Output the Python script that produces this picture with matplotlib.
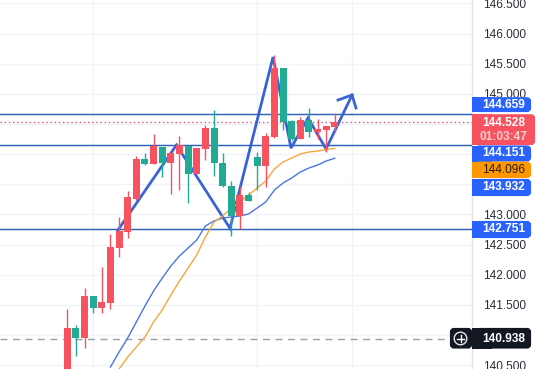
import numpy as np
import matplotlib
matplotlib.use("Agg")
import matplotlib.pyplot as plt
from matplotlib.patches import FancyBboxPatch, Rectangle, Circle

plt.rcParams['font.family'] = ['Liberation Sans', 'DejaVu Sans']

# ---- data -------------------------------------------------------------
opens = [140.337, 141.116, 140.950, 141.647, 141.448, 141.531, 142.443, 142.708, 143.255, 143.919, 143.836,
         144.118, 143.852, 144.002, 144.134, 143.670, 144.085, 144.433, 143.852, 143.471, 142.973, 143.322,
         143.952, 143.803, 144.284, 145.428, 144.549, 144.250, 144.566, 144.367, 144.400, 144.449]
highs = [141.431, 141.166, 141.780, 141.647, 142.128, 142.675, 142.957, 143.388, 143.969, 144.018, 144.333,
         144.118, 144.018, 144.300, 144.134, 144.101, 144.483, 144.731, 144.018, 143.554, 143.454, 143.372,
         144.035, 144.350, 145.643, 145.428, 144.566, 144.615, 144.765, 144.582, 144.466, 144.682]
lows = [140.190, 140.652, 140.784, 141.365, 141.365, 141.431, 142.294, 142.609, 143.239, 143.819, 143.836,
        143.620, 143.338, 143.405, 143.189, 143.670, 143.902, 143.637, 143.454, 142.642, 142.758, 143.222,
        143.405, 143.454, 144.267, 144.400, 144.234, 144.250, 144.284, 144.250, 144.035, 144.367]
closes = [141.116, 140.950, 141.647, 141.448, 141.547, 142.459, 142.725, 143.289, 143.919, 143.836, 144.134,
          143.852, 144.018, 144.151, 143.670, 144.101, 144.433, 143.852, 143.471, 142.973, 143.322, 143.222,
          143.803, 144.300, 145.428, 144.532, 144.250, 144.566, 144.367, 144.416, 144.466, 144.532]

ma_blue_start = 5
ma_blue = [140.469, 140.718, 140.950, 141.216, 141.481, 141.730, 141.945, 142.144, 142.310, 142.443, 142.575,
           142.808, 142.891, 142.940, 142.957, 142.973, 143.007, 143.106, 143.206, 143.405, 143.521, 143.604,
           143.703, 143.769, 143.819, 143.886, 143.932]
ma_orange_start = 6
ma_orange = [140.436, 140.635, 140.801, 140.967, 141.216, 141.415, 141.663, 141.896, 142.111, 142.327, 142.625,
             142.874, 142.973, 143.106, 143.206, 143.322, 143.438, 143.554, 143.753, 143.869, 143.935, 144.002,
             144.035, 144.051, 144.076, 144.096]

zigzag_idx = [5.87, 12.65, 18.85, 23.84, 25.92, 27.89, 29.98, 33.0]
zigzag_price = [142.74, 144.151, 142.77, 145.61, 144.10, 144.60, 144.085, 144.98]
arrow_idx = [31.37, 33.0, 33.45]
arrow_price = [144.897, 144.98, 144.765]

levels = [144.659, 144.151, 142.751]
last_price = 144.528
dashed_price = 140.938
tick_prices = [140.5, 141.0, 141.5, 142.0, 142.5, 143.0, 143.5, 144.0, 144.5, 145.0, 145.5, 146.0, 146.5]
hidden_ticks = [141.0, 143.5, 144.0, 144.5]
v_grid_idx = [3, 22, 33]

UP = '#f7525f'
DOWN = '#22ab94'
BLUE = '#2962ff'
LINE = '#3a63d8'

# ---- figure -----------------------------------------------------------
W, H = 541, 369
AX_R = 472
fig = plt.figure(figsize=(W / 100, H / 100), dpi=100, facecolor='white')
ax = fig.add_axes([0, 0, AX_R / W, 1])
ax.set_xlim(-67.3 / 8.63, (AX_R - 67.3) / 8.63)
ax.set_ylim(140.436, 146.556)
for s in ['top', 'left', 'bottom']:
    ax.spines[s].set_visible(False)
ax.spines['right'].set_color('#e0e3eb')
ax.spines['right'].set_linewidth(1)
ax.xaxis.set_visible(False)
ax.yaxis.tick_right()
ax.set_yticks(tick_prices)
ax.set_yticklabels(['' if t in hidden_ticks else f'{t:.3f}' for t in tick_prices],
                   fontsize=8.6, color='#2a2e39')
ax.tick_params(axis='y', length=0, pad=8)
ax.set_axisbelow(True)
ax.grid(axis='y', color='#f0f3fa', lw=1)
for v in v_grid_idx:
    ax.axvline(v, color='#f0f3fa', lw=1, zorder=0.5)

# levels
for lv in levels:
    ax.axhline(lv, color='#2f62b8', lw=1.05, zorder=3)
ax.axhline(last_price, color='#e0566a', lw=1, ls=(0, (1, 2)), zorder=3)
ax.plot([-7.8, 44.3], [dashed_price, dashed_price], color='#9a9ea8', lw=1, ls=(0, (5, 4)), zorder=3)

# zigzag
ax.plot(zigzag_idx, zigzag_price, color=LINE, lw=2.0, zorder=4, solid_joinstyle='miter')
ax.plot(arrow_idx, arrow_price, color=LINE, lw=2.0, zorder=4, solid_joinstyle='miter')

# moving averages
ax.plot(np.arange(len(ma_blue)) + ma_blue_start, ma_blue, color='#4a76e0', lw=1, zorder=4.5)
ax.plot(np.arange(len(ma_orange)) + ma_orange_start, ma_orange, color='#f5a73c', lw=1, zorder=4.5)

# candles
idx = np.arange(len(opens))
colors = [UP if c >= o else DOWN for o, c in zip(opens, closes)]
ax.vlines(idx, lows, highs, colors=colors, lw=1, zorder=5)
ax.bar(idx, np.abs(np.array(closes) - np.array(opens)), bottom=np.minimum(opens, closes),
       width=0.81, color=colors, linewidth=0, zorder=6)

# ---- price scale labels (pixel overlay) ----------------------------------
ov = fig.add_axes([0, 0, 1, 1], facecolor='none')
ov.set_xlim(0, W)
ov.set_ylim(H, 0)
ov.axis('off')


def box(y0, y1, color, x1=531):
    ov.add_patch(Rectangle((AX_R, y0), 20, y1 - y0, color=color, lw=0))
    ov.add_patch(FancyBboxPatch((AX_R + 5, y0 + 2), x1 - AX_R - 7, y1 - y0 - 4,
                                boxstyle='round,pad=0,rounding_size=2', mutation_aspect=1,
                                fc=color, ec=color, lw=3))


def label(y, s, color='white', x=503.5, **kw):
    ov.text(x, y, s, color=color, ha='center', va='center', fontsize=8.6, **kw)


box(97.3, 112, BLUE)
label(105, '144.659', fontweight='bold')
box(114.3, 145, UP, x1=535)
label(122.5, '144.528', fontweight='bold')
label(136.5, '01:03:47', color='#fbd0d4', fontweight='bold')
box(145.5, 161.5, BLUE)
label(153.5, '144.151', fontweight='bold')
box(161.7, 178, '#ff9800')
label(170, '144.096', color='#2a1a00')
box(179, 196, BLUE)
label(187.5, '143.932', fontweight='bold')
box(221, 238, BLUE)
label(229.5, '142.751', fontweight='bold')
box(328, 348.5, '#131722')
label(338.5, '140.938', fontweight='bold')

ov.add_patch(FancyBboxPatch((452, 330), 18, 16.5, boxstyle='round,pad=0,rounding_size=2',
                            fc='#131722', ec='#131722', lw=3))
ov.add_patch(Circle((460.5, 338.5), 6.3, fc='none', ec='#e8e8ea', lw=1))
ov.plot([457, 464], [338.5, 338.5], color='white', lw=1)
ov.plot([460.5, 460.5], [335, 342], color='white', lw=1)

fig.savefig('out.png', dpi=100, facecolor='white')
